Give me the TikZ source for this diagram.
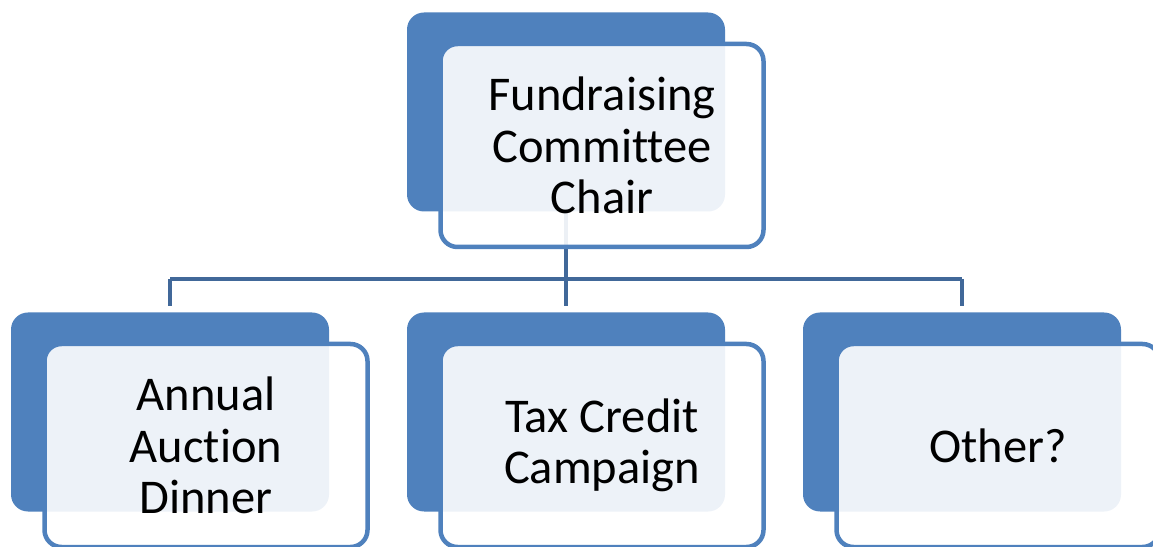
\documentclass[tikz,border=0pt]{standalone}
\usepackage{fontspec}
\setmainfont{Carlito}[Ligatures=NoCommon]
\usetikzlibrary{positioning, calc}

\definecolor{boxblue}{RGB}{79,129,189}
\definecolor{linkblue}{RGB}{65,104,153}

\begin{document}
\begin{tikzpicture}[x=1pt, y=1pt,
    back/.style={draw=none, fill=boxblue, rounded corners=17pt, minimum width=318pt, minimum height=199pt, inner sep=0pt},
    front/.style={draw=boxblue, line width=4.5pt, fill=white, fill opacity=0.9, text opacity=1, rounded corners=17pt,
                  minimum width=323pt, minimum height=203pt, inner sep=0pt, align=center,
                  font=\fontsize{48.5}{51.5}\selectfont},
    link/.style={draw=linkblue, line width=4.5pt}]
  \useasboundingbox (0,0) rectangle (1153,546);
  \clip (0,0) rectangle (1153,546);

  % back plates
  \node[back] (chairback) at (566,434) {};
  \node[back] (auctionback) at (170,134) {};
  \node[back] (taxback) at (566,134) {};
  \node[back] (otherback) at (962,134) {};

  % connectors, under the front cards
  \coordinate (bus) at (566,267);
  \draw[link] (chairback.south) -- (bus);
  \draw[link] (auctionback.north |- bus) -- (otherback.north |- bus);
  \foreach \kid in {auctionback, taxback, otherback}
    \draw[link, shorten >=6pt] (\kid.north |- bus) -- (\kid.north);

  % front cards with the text
  \node[front] (chair) at ([xshift=36pt,yshift=-33.5pt]chairback.center) {Fundraising\\Committee\\Chair};
  \node[front] (auction) at ([xshift=36pt,yshift=-33.5pt]auctionback.center) {Annual\\Auction\\Dinner};
  \node[front] (tax) at ([xshift=36pt,yshift=-33.5pt]taxback.center) {Tax Credit\\Campaign};
  \node[front] (other) at ([xshift=36pt,yshift=-33.5pt]otherback.center) {Other?};
\end{tikzpicture}
\end{document}
